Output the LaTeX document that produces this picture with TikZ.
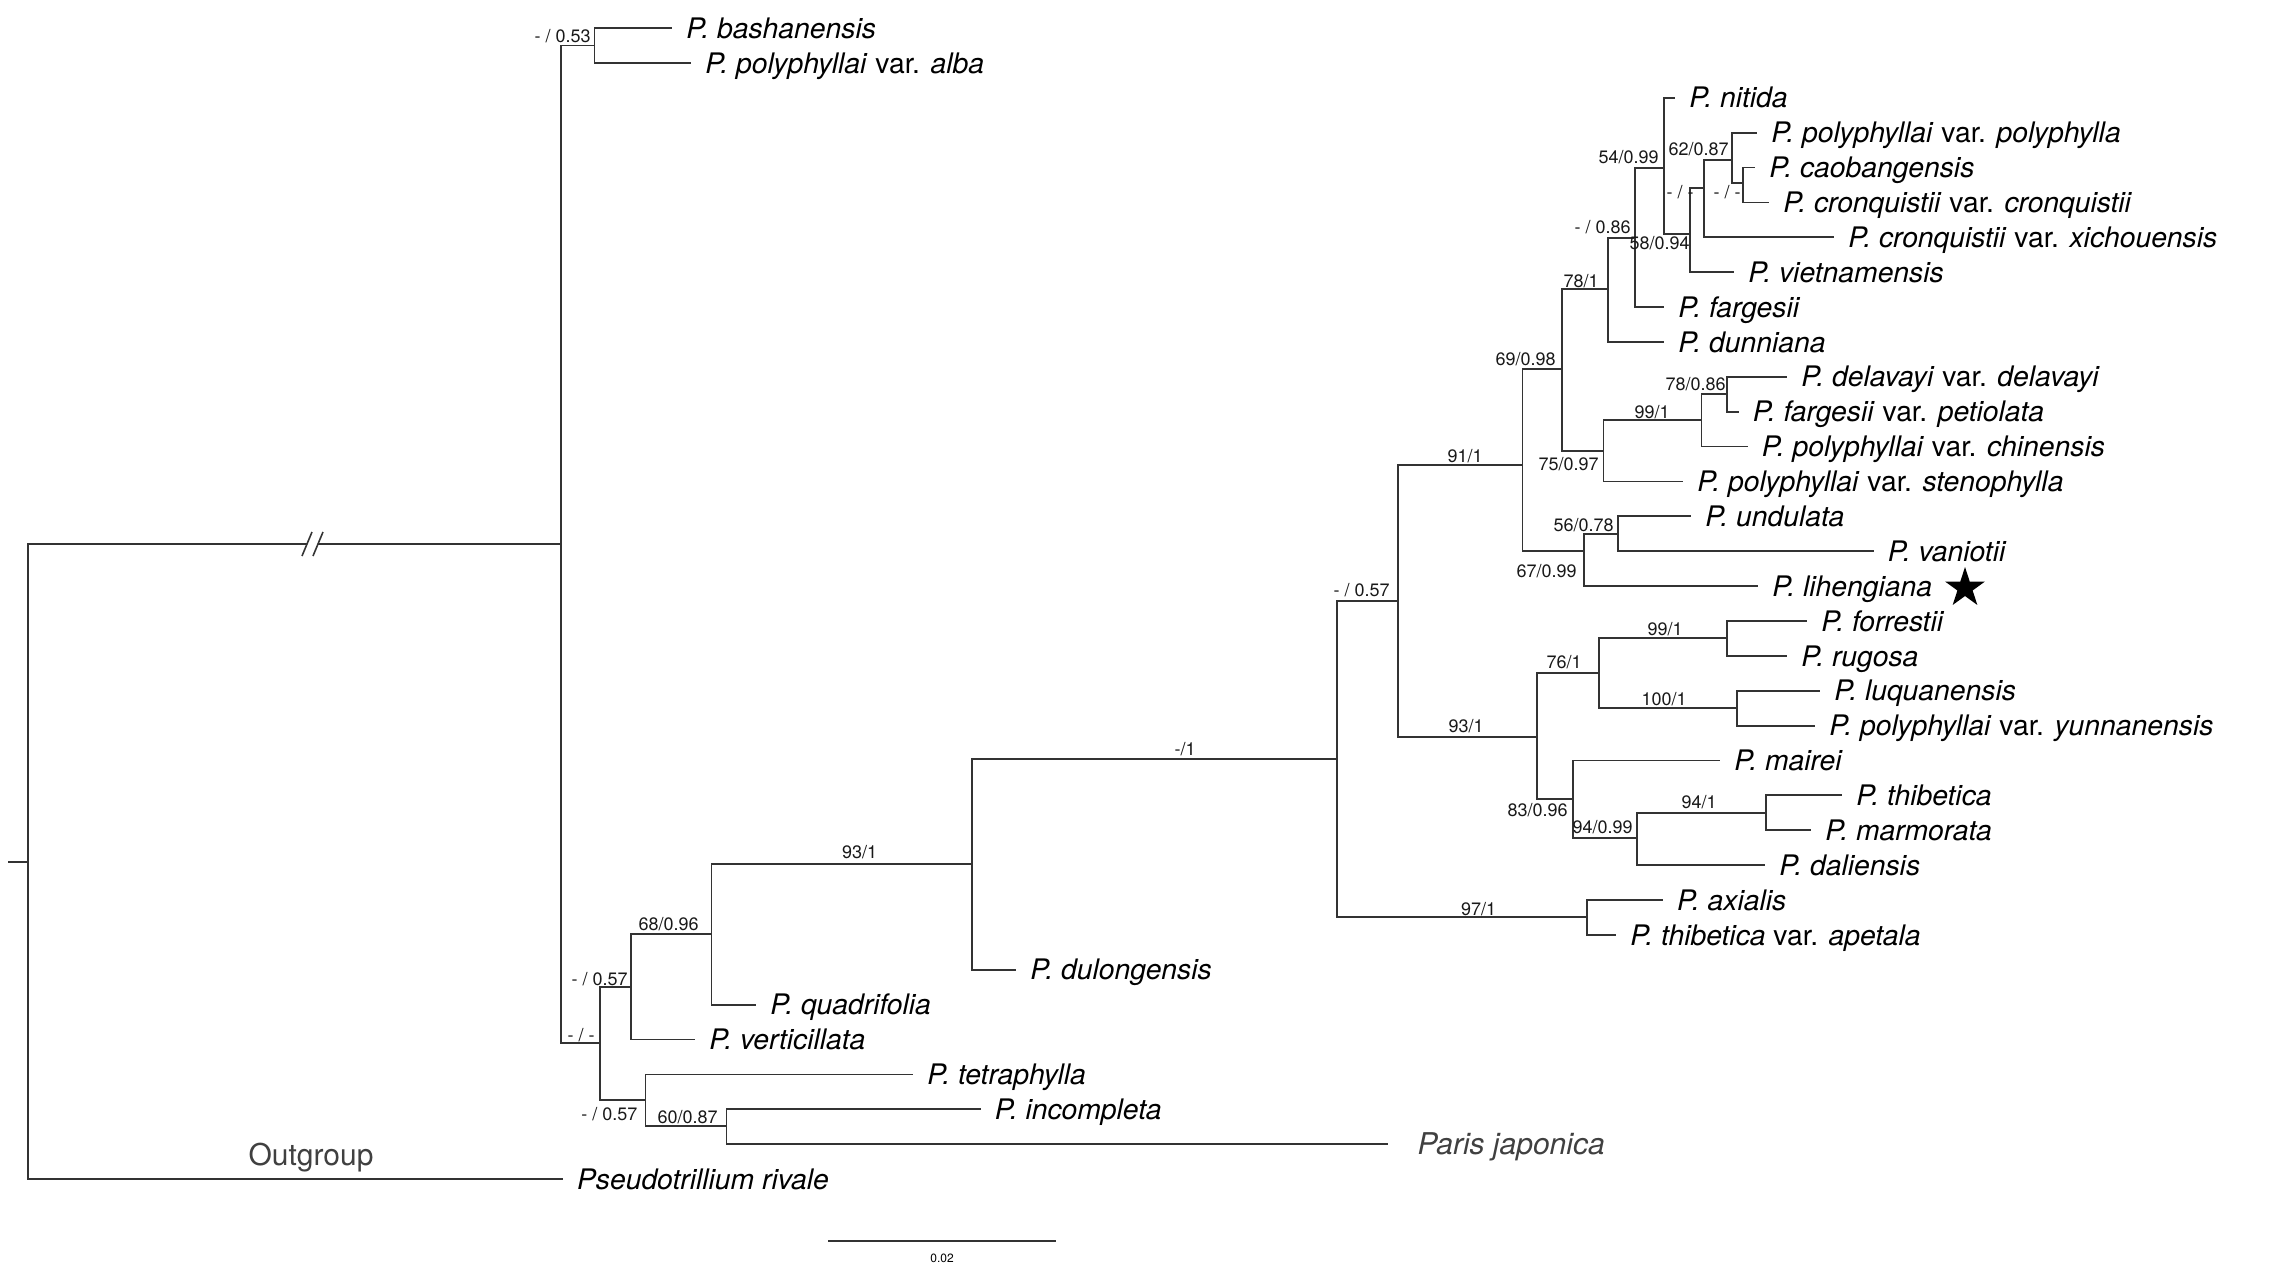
\documentclass[tikz,border=0pt]{standalone}
\usepackage{fontspec}
\setmainfont{TeX Gyre Heros}
\usetikzlibrary{shapes.geometric}
\begin{document}
\begin{tikzpicture}[x=0.5pt,y=-0.5pt,
  br/.style={draw=black!80, line width=0.9pt},
  leaf/.style={anchor=west, inner xsep=7.2pt, inner ysep=0pt, outer sep=0pt, text height=10.16pt, text depth=0pt, font=\fontsize{14.15}{16}\selectfont},
  bs/.style={anchor=base east, inner sep=0pt, font=\fontsize{9}{10}\selectfont, text=black!90},
  grey/.style={text=black!75}
]
\useasboundingbox (0,0) rectangle (2280,1274);

% internal nodes
\coordinate (rootstub) at (8,862);
\coordinate (root) at (28,862);
\coordinate (brkL) at (307,544);
\coordinate (brkR) at (318,544);
\coordinate (ing) at (561,544);
\coordinate (nBA) at (594.5,45.5);
\coordinate (nLow) at (600,1043);
\coordinate (nU57) at (630.7,987.3);
\coordinate (n68) at (711.5,934.3);
\coordinate (n93a) at (972.3,864);
\coordinate (nM1) at (1336.7,759);
\coordinate (nD57) at (1397.7,601);
\coordinate (n91) at (1522.5,465);
\coordinate (n69) at (1562,369);
\coordinate (n78) at (1608,289.3);
\coordinate (n086) at (1635,237.7);
\coordinate (n54) at (1664,167.7);
\coordinate (n58) at (1690,234.3);
\coordinate (nDD1) at (1704,188.3);
\coordinate (n62) at (1732,160);
\coordinate (nDD2) at (1743,183.3);
\coordinate (n75) at (1603.5,450.7);
\coordinate (n99a) at (1701.5,420);
\coordinate (n7886) at (1727,394);
\coordinate (n67) at (1584,550.7);
\coordinate (n56) at (1618,534.3);
\coordinate (n93b) at (1537.3,736.7);
\coordinate (n76) at (1599,673.3);
\coordinate (n99b) at (1727,638.3);
\coordinate (n100) at (1736.7,708.3);
\coordinate (n83) at (1573,799.3);
\coordinate (n9499) at (1637,838.3);
\coordinate (n941) at (1766,813.3);
\coordinate (n97) at (1587,917.3);
\coordinate (nL57) at (645.4,1100);
\coordinate (n60) at (726.5,1126);

% leaves
\node[leaf] (t1) at (672,28) {\textit{P. bashanensis}};
\node[leaf] (t2) at (691,62.88) {\textit{P. polyphyllai} var. \textit{alba}};
\node[leaf] (t3) at (1675,97.76) {\textit{P. nitida}};
\node[leaf] (t4) at (1757,132.64) {\textit{P. polyphyllai} var. \textit{polyphylla}};
\node[leaf] (t5) at (1755,167.52) {\textit{P. caobangensis}};
\node[leaf] (t6) at (1769,202.4) {\textit{P. cronquistii} var. \textit{cronquistii}};
\node[leaf] (t7) at (1834,237.28) {\textit{P. cronquistii} var. \textit{xichouensis}};
\node[leaf] (t8) at (1734,272.16) {\textit{P. vietnamensis}};
\node[leaf] (t9) at (1664,307.04) {\textit{P. fargesii}};
\node[leaf] (t10) at (1664,341.92) {\textit{P. dunniana}};
\node[leaf] (t11) at (1787,376.8) {\textit{P. delavayi} var. \textit{delavayi}};
\node[leaf] (t12) at (1738.5,411.68) {\textit{P. fargesii} var. \textit{petiolata}};
\node[leaf] (t13) at (1747.5,446.56) {\textit{P. polyphyllai} var. \textit{chinensis}};
\node[leaf] (t14) at (1683,481.44) {\textit{P. polyphyllai} var. \textit{stenophylla}};
\node[leaf] (t15) at (1691,516.32) {\textit{P. undulata}};
\node[leaf] (t16) at (1873.5,551.2) {\textit{P. vaniotii}};
\node[leaf] (t17) at (1758,586.08) {\textit{P. lihengiana}};
\node[leaf] (t18) at (1807,620.96) {\textit{P. forrestii}};
\node[leaf] (t19) at (1787,655.84) {\textit{P. rugosa}};
\node[leaf] (t20) at (1820,690.72) {\textit{P. luquanensis}};
\node[leaf] (t21) at (1815,725.6) {\textit{P. polyphyllai} var. \textit{yunnanensis}};
\node[leaf] (t22) at (1720,760.48) {\textit{P. mairei}};
\node[leaf] (t23) at (1842,795.36) {\textit{P. thibetica}};
\node[leaf] (t24) at (1811,830.24) {\textit{P. marmorata}};
\node[leaf] (t25) at (1765,865.12) {\textit{P. daliensis}};
\node[leaf] (t26) at (1662.6,900) {\textit{P. axialis}};
\node[leaf] (t27) at (1616,934.88) {\textit{P. thibetica} var. \textit{apetala}};
\node[leaf] (t28) at (1016,969.76) {\textit{P. dulongensis}};
\node[leaf] (t29) at (756,1004.64) {\textit{P. quadrifolia}};
\node[leaf] (t30) at (695,1039.52) {\textit{P. verticillata}};
\node[leaf] (t31) at (913,1074.4) {\textit{P. tetraphylla}};
\node[leaf] (t32) at (980.5,1109.28) {\textit{P. incompleta}};
\node[leaf, grey, inner xsep=15pt, text height=10.8pt, font=\fontsize{15}{18}\selectfont] (t33) at (1387.5,1144.16) {\textit{Paris japonica}};
\node[leaf] (t34) at (562.6,1179.04) {\textit{Pseudotrillium rivale}};

% star
\node[star, star points=5, star point ratio=2.618, fill=black, draw=none, inner sep=0pt, outer sep=0pt, minimum size=21pt] (star) at (1965,588) {};

% branches
\draw[br] (rootstub) -- (root);
\draw[br] (root) |- (brkL);
\draw[br] (brkR) -- (ing);
\draw[br, line width=0.8pt] (302,556) -- (312,532);
\draw[br, line width=0.8pt] (313,556) -- (323,532);
\draw[br] (root) |- (t34.west);

\foreach \a/\b in {ing/nBA, ing/nLow, nLow/nU57, nLow/nL57, nU57/n68, n68/n93a,
  n93a/nM1, nM1/nD57, nM1/n97, nD57/n91, nD57/n93b, n91/n69, n91/n67,
  n69/n78, n69/n75, n78/n086, n086/n54, n54/n58, n58/nDD1, nDD1/n62, n62/nDD2,
  n75/n99a, n99a/n7886, n67/n56, n93b/n76, n93b/n83, n76/n99b, n76/n100,
  n83/n9499, n9499/n941, nL57/n60}
  \draw[br] (\a) |- (\b);

\foreach \a/\b in {nBA/t1, nBA/t2, n54/t3, n62/t4, nDD2/t5, nDD2/t6, nDD1/t7,
  n58/t8, n086/t9, n78/t10, n7886/t11, n7886/t12, n99a/t13, n75/t14,
  n56/t15, n56/t16, n67/t17, n99b/t18, n99b/t19, n100/t20, n100/t21,
  n83/t22, n941/t23, n941/t24, n9499/t25, n97/t26, n97/t27, n93a/t28,
  n68/t29, nU57/t30, nL57/t31, n60/t32, n60/t33}
  \draw[br] (\a) |- (\b.west);

% support labels
\node[bs] (s053) at (591,42) {- / 0.53};
\node[bs] (sLow) at (595,1041) {- / -};
\node[bs] (sU57) at (628,985) {- / 0.57};
\node[bs] (s68) at (699,930) {68/0.96};
\node[bs] (s93a) at (877.5,858) {93/1};
\node[bs] (sM1) at (1196,755) {-/1};
\node[bs] (sD57) at (1390,596) {- / 0.57};
\node[bs] (s91) at (1483,462) {91/1};
\node[bs] (s69) at (1556,365) {69/0.98};
\node[bs] (s78) at (1599,287) {78/1};
\node[bs] (s086) at (1631,233) {- / 0.86};
\node[bs] (s54) at (1659,163) {54/0.99};
\node[bs] (s58) at (1690,249) {58/0.94};
\node[bs] (sDD1) at (1694,198) {- / -};
\node[bs] (s62) at (1729,155) {62/0.87};
\node[bs] (sDD2) at (1741,198) {- / -};
\node[bs] (s7886) at (1726,390) {78/0.86};
\node[bs] (s99a) at (1670,418) {99/1};
\node[bs] (s75) at (1599,470) {75/0.97};
\node[bs] (s56) at (1614,531) {56/0.78};
\node[bs] (s67) at (1577,577) {67/0.99};
\node[bs] (s99b) at (1683,635) {99/1};
\node[bs] (s100) at (1687,705) {100/1};
\node[bs] (s76) at (1582,668) {76/1};
\node[bs] (s93b) at (1484,732) {93/1};
\node[bs] (s83) at (1568,816) {83/0.96};
\node[bs] (s9499) at (1633,833) {94/0.99};
\node[bs] (s941) at (1717,808) {94/1};
\node[bs] (s97) at (1496.5,915) {97/1};
\node[bs] (sL57) at (637.7,1120) {- / 0.57};
\node[bs] (s60) at (718,1123.3) {60/0.87};

% outgroup label
\node[anchor=base, inner sep=0pt, grey, font=\fontsize{15}{18}\selectfont] (og) at (311,1165) {Outgroup};

% scale bar
\coordinate (sbL) at (828,1241);
\coordinate (sbR) at (1056,1241);
\draw[br] (sbL) -- (sbR);
\node[anchor=base, inner sep=0pt, font=\fontsize{6}{7}\selectfont] (sbt) at (942,1262) {0.02};
\end{tikzpicture}
\end{document}
